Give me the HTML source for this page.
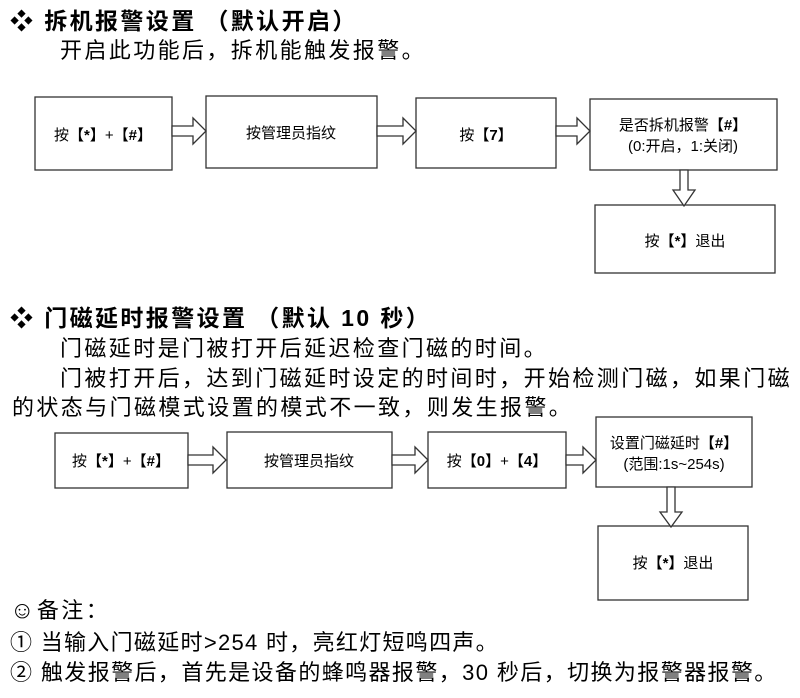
<!DOCTYPE html>
<html><head><meta charset="utf-8"><style>
body{margin:0;width:800px;height:698px;background:#fff;position:relative;overflow:hidden;font-family:"Liberation Sans","Noto Sans CJK SC",sans-serif;color:#000}
.t{position:absolute;white-space:nowrap;font-size:22px;line-height:26px;letter-spacing:2.4px}
.b{font-weight:bold;font-size:23px;letter-spacing:2.4px}
svg{position:absolute;left:0;top:0}
svg text{font-family:"Liberation Sans","Noto Sans CJK SC",sans-serif;font-size:15px}
</style></head><body>
<svg width="800" height="698">
<g fill="#fff" stroke="#333" stroke-width="1.3">
<rect x="35" y="97" width="137" height="73"/>
<rect x="206" y="96" width="171" height="72"/>
<rect x="416" y="98" width="140" height="70"/>
<rect x="590" y="99" width="187" height="71"/>
<rect x="595" y="205" width="180" height="68"/>
<rect x="55" y="433" width="133" height="55"/>
<rect x="227" y="432" width="165" height="56"/>
<rect x="428" y="432" width="138" height="56"/>
<rect x="596" y="417" width="156" height="70"/>
<rect x="598" y="526" width="150" height="74"/>
<path d="M172,126 h21 v-8 l13,13 l-13,13 v-8 h-21z"/>
<path d="M377,126 h26 v-8 l13,13 l-13,13 v-8 h-26z"/>
<path d="M556,126 h21 v-8 l13,13 l-13,13 v-8 h-21z"/>
<path d="M188,455 h25 v-8 l13,13 l-13,13 v-8 h-25z"/>
<path d="M392,455 h23 v-8 l13,13 l-13,13 v-8 h-23z"/>
<path d="M566,455 h17 v-8 l13,13 l-13,13 v-8 h-17z"/>
<path d="M680,170 v20 h-7 l11,16 l11,-16 h-7 v-20z"/>
<path d="M667,487 v25 h-7 l11,15 l11,-15 h-7 v-25z"/>
</g>
<g text-anchor="middle">
<text x="103" y="140">按<tspan font-weight="bold">【*】</tspan>+<tspan font-weight="bold">【#】</tspan></text>
<text x="291" y="138">按管理员指纹</text>
<text x="486" y="140">按<tspan font-weight="bold">【7】</tspan></text>
<text x="683" y="130">是否拆机报警<tspan font-weight="bold">【#】</tspan></text>
<text x="683" y="151">(0:开启，1:关闭)</text>
<text x="685" y="246">按<tspan font-weight="bold">【*】</tspan>退出</text>
<text x="121" y="466">按<tspan font-weight="bold">【*】</tspan>+<tspan font-weight="bold">【#】</tspan></text>
<text x="309" y="466">按管理员指纹</text>
<text x="497" y="466">按<tspan font-weight="bold">【0】</tspan>+<tspan font-weight="bold">【4】</tspan></text>
<text x="674" y="448">设置门磁延时<tspan font-weight="bold">【#】</tspan></text>
<text x="674" y="469">(范围:1s~254s)</text>
<text x="673" y="568">按<tspan font-weight="bold">【*】</tspan>退出</text>
</g>
</svg>
<div class="t b" style="left:10px;top:8px">❖ 拆机报警设置 （默认开启）</div>
<div class="t" style="left:60px;top:38px">开启此功能后，拆机能触发报警。</div>
<div class="t b" style="left:10px;top:305px">❖ 门磁延时报警设置 （默认 10 秒）</div>
<div class="t" style="left:60px;top:336px">门磁延时是门被打开后延迟检查门磁的时间。</div>
<div class="t" style="left:60px;top:366px">门被打开后，达到门磁延时设定的时间时，开始检测门磁，如果门磁</div>
<div class="t" style="left:12px;top:395px">的状态与门磁模式设置的模式不一致，则发生报警。</div>
<div class="t" style="left:10px;top:598px"><b style="font-size:24px">☺</b>备注：</div>
<div class="t" style="left:10px;top:630px;letter-spacing:1.3px">① 当输入门磁延时&gt;254 时，亮红灯短鸣四声。</div>
<div class="t" style="left:10px;top:660px;letter-spacing:1.4px">② 触发报警后，首先是设备的蜂鸣器报警，30 秒后，切换为报警器报警。</div>
</body></html>
